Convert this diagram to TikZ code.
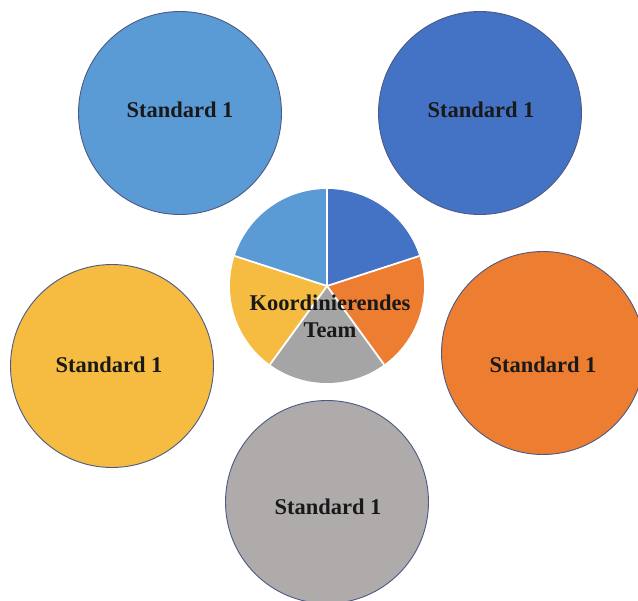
\documentclass[tikz,border=0pt]{standalone}
\usepackage{fontspec}
\setmainfont{Liberation Serif}
\definecolor{lblue}{HTML}{5B9BD5}
\definecolor{dblue}{HTML}{4472C4}
\definecolor{orng}{HTML}{ED7D31}
\definecolor{gryc}{HTML}{AFABAB}
\definecolor{gryp}{HTML}{A5A5A5}
\definecolor{gold}{HTML}{F5BC41}
\definecolor{rim}{HTML}{4A5A85}
\tikzset{
  stdcircle/.style={circle, draw=rim, line width=0.9pt, minimum size=203pt, inner sep=0pt},
  stdtext/.style={font=\fontsize{22.5}{27}\selectfont\bfseries, text=black!90, inner sep=0pt},
  slice/.style={draw=white, line width=1.8pt, line join=round},
  centertext/.style={align=center, font=\fontsize{22.5}{27}\selectfont\bfseries, text=black!90, inner sep=0pt}
}
\begin{document}
\begin{tikzpicture}[x=1pt,y=-1pt]
\useasboundingbox (0,0) rectangle (638,601);
\clip (0,0) rectangle (638,601);
\fill[white] (0,0) rectangle (638,601);
\node[stdcircle, fill=lblue] (c1) at (180,113) {};
\node[stdcircle, fill=dblue] (c2) at (480,113) {};
\node[stdcircle, fill=gold] (c3) at (112,366) {};
\node[stdcircle, fill=orng] (c4) at (543,353) {};
\node[stdcircle, fill=gryc] (c5) at (327,502) {};
\node[stdtext] (t1) at (180,110) {Standard 1};
\node[stdtext] (t2) at (481,110) {Standard 1};
\node[stdtext] (t3) at (109,365) {Standard 1};
\node[stdtext] (t4) at (543,365) {Standard 1};
\node[stdtext] (t5) at (328,507) {Standard 1};
\coordinate (pc) at (327,286);
\def\R{97}
% y axis points down, so angles are measured clockwise from +x
\fill[dblue] (pc) -- ++(-90:\R) arc[start angle=-90, end angle=-18, radius=\R] -- cycle;
\fill[orng] (pc) -- ++(-18:\R) arc[start angle=-18, end angle=54, radius=\R] -- cycle;
\fill[gryp] (pc) -- ++(54:\R) arc[start angle=54, end angle=126, radius=\R] -- cycle;
\fill[gold] (pc) -- ++(126:\R) arc[start angle=126, end angle=198, radius=\R] -- cycle;
\fill[lblue] (pc) -- ++(198:\R) arc[start angle=198, end angle=270, radius=\R] -- cycle;
\foreach \a in {-90,-18,54,126,198}
  \draw[slice] (pc) -- ++(\a:\R);
\node[centertext] (team) at (330,316) {Koordinierendes\\Team};
\end{tikzpicture}
\end{document}
